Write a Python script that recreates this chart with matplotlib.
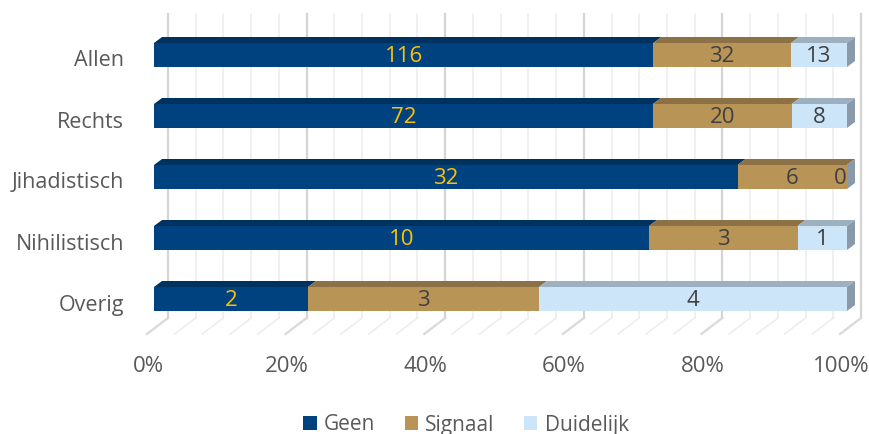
import matplotlib.pyplot as plt
from matplotlib.patches import Polygon
import numpy as np

plt.rcParams['font.family'] = ['Open Sans', 'DejaVu Sans']

categories = ["Allen", "Rechts", "Jihadistisch", "Nihilistisch", "Overig"]
series = ["Geen", "Signaal", "Duidelijk"]
geen = [116, 72, 32, 10, 2]
signaal = [32, 20, 6, 3, 3]
duidelijk = [13, 8, 0, 1, 4]
xticks = [0, 20, 40, 60, 80, 100]

front = ["#00427F", "#B99457", "#CCE5F8"]
top = ["#00325F", "#8C7046", "#9DB0C0"]
side = ["#00284C", "#7A6240", "#8A9AAB"]
label_col = ["#FFC000", "#404040", "#404040"]
grey = "#595959"

W, H = 869, 434
fig = plt.figure(figsize=(W / 100, H / 100), dpi=100)
# x: 0..100 % -> px 154..847 ; y: category index, px = 55 + 61*k
ax = fig.add_axes([154 / W, 0, 693 / W, 1])
ax.set_xlim(0, 100)
ax.set_ylim((H - 55) / 61, -55 / 61)
ax.axis("off")

pxx = 100 / 693  # one pixel in x data
pxy = 1 / 61     # one pixel in y data

# back wall gridlines and floor lines
wall_dx, wall_top, wall_bot = 14 * pxx, (14 - 55) * pxy, (318 - 55) * pxy
floor_dx, floor_front = -7 * pxx, (334 - 55) * pxy
for p in np.arange(0, 101, 4):
    major = p % 20 == 0
    c = "#D4D4D4" if major else "#EDEDED"
    lw = 1.6 if major else 1.2
    ax.plot([p + wall_dx, p + wall_dx], [wall_top, wall_bot], color=c, lw=lw,
            clip_on=False, zorder=1)
    ax.plot([p + wall_dx, p + floor_dx], [wall_bot, floor_front],
            color="#D9D9D9" if major else "#EDEDED", lw=lw, clip_on=False, zorder=1)

# bars
bh = 24 * pxy
ddx, ddy = 8 * pxx, -6 * pxy
vals = np.array([geen, signaal, duidelijk], dtype=float)
tot = vals.sum(axis=0)
pct = vals / tot * 100
y = np.arange(len(categories))
left = np.zeros(len(categories))
for s in range(len(series)):
    w = pct[s]
    ax.barh(y, w, left=left, height=bh, color=front[s], label=series[s],
            zorder=3, clip_on=False)
    for k in range(len(categories)):
        x0, x1 = left[k], left[k] + w[k]
        yt = y[k] - bh / 2
        if w[k] > 0:
            ax.add_patch(Polygon([[x0, yt], [x1, yt], [x1 + ddx, yt + ddy],
                                  [x0 + ddx, yt + ddy]], closed=True,
                                 color=top[s], zorder=3, clip_on=False, lw=0))
        if s == len(series) - 1:
            ax.add_patch(Polygon([[x1, yt], [x1 + ddx, yt + ddy],
                                  [x1 + ddx, yt + ddy + bh], [x1, yt + bh]],
                                 closed=True, color=side[s], zorder=4,
                                 clip_on=False, lw=0))
        cx = (x0 + x1) / 2 if w[k] > 0 else x1 - 1.0
        ax.text(cx, y[k] + 0.02, f"{int(vals[s][k])}", ha="center", va="center",
                fontsize=16, color=label_col[s], zorder=5)
    left = left + w

# category labels
for k, c in enumerate(categories):
    ax.text(-30 * pxx, y[k] + 6 * pxy, c, ha="right", va="center", fontsize=15.5,
            color=grey)

# x tick labels
for t in xticks:
    ax.text(t - 6 * pxx, (367 - 55) * pxy, f"{t}%", ha="center", va="center",
            fontsize=16, color=grey)

fig.legend(*ax.get_legend_handles_labels(), loc="center", ncol=3,
           bbox_to_anchor=(466 / W, 1 - 425 / H), frameon=False, fontsize=15,
           handlelength=0.65, handleheight=0.65, handletextpad=0.35,
           columnspacing=1.4, labelcolor=grey)

fig.savefig("out.png", dpi=100)
